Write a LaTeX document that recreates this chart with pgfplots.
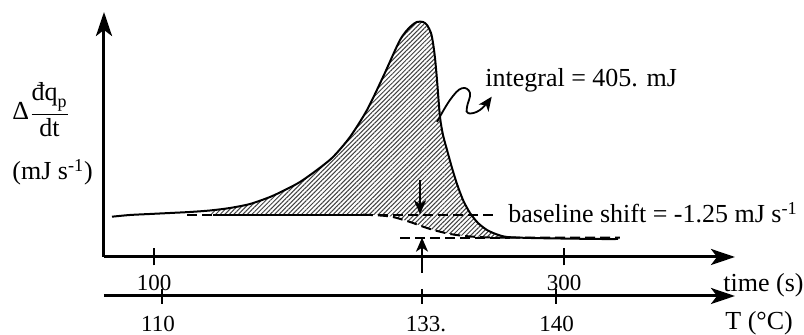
\documentclass[border=0pt]{standalone}
\usepackage{fontspec}
\setmainfont{Liberation Serif}
\usepackage{pgfplots}
\pgfplotsset{compat=1.18}
\usepgfplotslibrary{fillbetween}
\usetikzlibrary{arrows.meta,patterns.meta}

\tikzset{
  bigarrow/.style={-{Stealth[length=12pt,width=8pt,inset=3pt]}},
  smallarrow/.style={-{Stealth[length=7pt,width=6pt,inset=2pt]}},
  basedash/.style={line width=1pt, dash pattern=on 5pt off 2.5pt},
}

\begin{document}
\begin{tikzpicture}[font=\fontsize{13}{15}\selectfont]
\begin{axis}[
  scale only axis, width=315.5pt, height=122.5pt,
  xmin=75.61, xmax=383.4, ymin=0, ymax=13.315,
  axis x line=bottom, axis y line=left,
  axis line style={line width=1.5pt},
  x axis line style={bigarrow},
  y axis line style={bigarrow},
  xtick={100,300}, xticklabels={100,300}, ytick=\empty,
  tick align=center, major tick length=8.5pt,
  every tick/.style={black, line width=1.2pt},
  xticklabel style={anchor=base, yshift=-12.5pt, font=\fontsize{11.5}{13}\selectfont},
  clip=false,
]
% heat-flow signal
\addplot[name path=signal, line width=1pt, smooth, tension=0.45] coordinates {
  (79.51,2.19) (88.29,2.283) (98.05,2.337) (107.80,2.391) (117.56,2.446)
  (127.32,2.527) (137.07,2.663) (146.83,2.880) (156.59,3.261) (163.90,3.641)
  (171.22,4.076) (179.51,4.728) (187.32,5.435) (195.61,6.522) (203.90,7.989)
  (211.71,9.783) (220.00,11.793) (224.88,12.500) (228.29,12.772) (231.22,12.772)
  (233.17,12.609) (235.12,12.174) (236.10,11.630) (237.07,10.815) (238.05,9.620)
  (239.51,7.609) (240.98,6.630) (242.93,5.815) (245.37,4.837) (247.80,3.967)
  (250.73,3.098) (254.15,2.391) (258.05,1.848) (262.44,1.467) (267.32,1.223)
  (272.20,1.087) (283.41,1.033) (298.05,1.005) (317.56,0.978) (326.34,0.978)
};
% interpolated baseline (boundary of the integrated area)
\addplot[name path=base, draw=none, smooth, tension=0.5] coordinates {
  (116.10,2.30) (128.78,2.30) (201.95,2.30) (210.24,2.255) (216.59,2.174)
  (224.88,1.902) (234.63,1.522) (244.39,1.25) (254.15,1.114) (263.90,1.06)
  (273.66,1.05) (327.3,1.05)
};
\addplot[pattern={Lines[angle=45,distance=1.6pt,line width=0.5pt]}, pattern color=black!75]
  fill between[of=signal and base, soft clip={domain=128:300}];

% baseline before and after the transition
\addplot[basedash] coordinates {(116.10,2.30) (128.78,2.30)};
\addplot[line width=0.9pt] coordinates {(128.78,2.30) (201.95,2.30)};
\addplot[basedash, smooth, tension=0.5] coordinates {
  (201.95,2.30) (210.24,2.255) (216.59,2.174) (224.88,1.902) (234.63,1.522)
  (244.39,1.25) (254.15,1.114) (263.90,1.06) (273.66,1.05) (327.3,1.05)
};
\addplot[basedash] coordinates {(201.95,2.30) (267.3,2.30)};
\addplot[basedash] coordinates {(220.0,1.05) (273.66,1.05)};

% pointer to the integral label
\addplot[line width=0.9pt, smooth, tension=0.7, smallarrow] coordinates {
  (238.05,7.337) (244.39,8.533) (250.10,9.168) (254.15,8.913) (252.68,8.152)
  (253.32,7.810) (259.02,7.989) (264.73,8.712)
};

% arrows marking the shift
\draw[line width=1pt, smallarrow] (axis cs:229.76,4.185) -- (axis cs:229.76,2.32);
\draw[line width=1pt, smallarrow] (axis cs:230.73,-0.870) -- (axis cs:230.73,1.05);

% temperature axis
\draw[line width=1.5pt, bigarrow] (axis cs:75.61,-2.120) -- (axis cs:383.4,-2.120);
\draw[line width=1.2pt] (axis cs:103.90,-1.739) -- (axis cs:103.90,-2.554);
\draw[line width=1.2pt] (axis cs:230.73,-1.739) -- (axis cs:230.73,-2.554);
\draw[line width=1.2pt] (axis cs:296.10,-1.739) -- (axis cs:296.10,-2.554);
\begin{scope}[font=\fontsize{11.5}{13}\selectfont]
\node[anchor=base] at (axis cs:101.95,-4.03) {110};
\node[anchor=base] at (axis cs:232.68,-4.03) {133.};
\node[anchor=base] at (axis cs:296.34,-4.03) {140};
\end{scope}

% labels
\node[anchor=base west, inner sep=0pt] at (axis cs:261.46,9.239) {integral = 405. mJ};
\node[anchor=base west, inner sep=0pt] at (axis cs:272.68,1.848) {baseline shift = -1.25 mJ s\textsuperscript{-1}};
\node[anchor=base west, inner sep=0pt] at (axis cs:377.56,-1.902) {time (s)};
\node[anchor=base west, inner sep=0pt] at (axis cs:378.54,-3.95) {T (°C)};
\node[anchor=base west, inner sep=0pt] at (axis cs:30.73,7.446)
  {Δ$\displaystyle\frac{\mbox{đq}_{\mbox{\fontsize{9}{10}\selectfont p}}}{\mbox{dt}}$};
\node[anchor=base west, inner sep=0pt] at (axis cs:30.73,4.185) {(mJ s\textsuperscript{-1})};

\coordinate (BL) at (axis cs:24.88,-4.239);
\coordinate (TR) at (axis cs:417.07,13.967);
\end{axis}
\pgfresetboundingbox
\useasboundingbox (BL) rectangle (TR);
\end{tikzpicture}
\end{document}
